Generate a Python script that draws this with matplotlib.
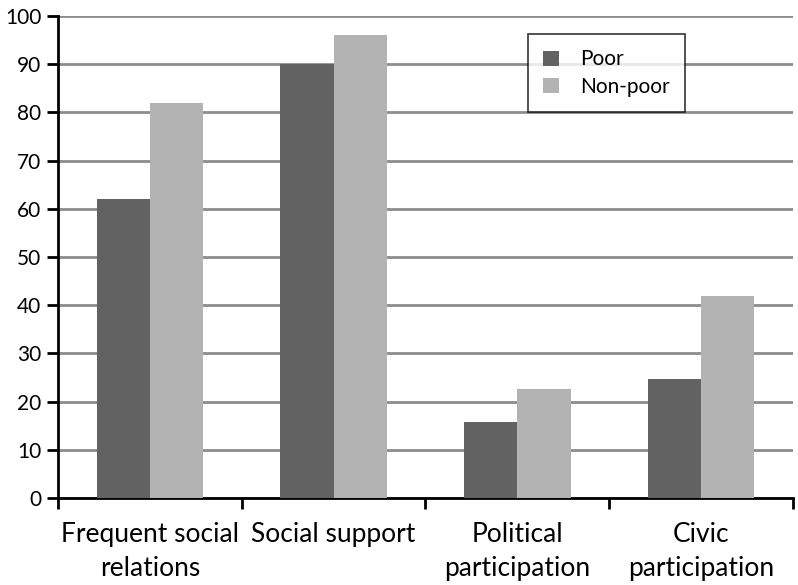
import matplotlib.pyplot as plt
import numpy as np

categories = ["Frequent social\nrelations", "Social support", "Political\nparticipation", "Civic\nparticipation"]
poor = [62, 90, 15.7, 24.6]
non_poor = [82, 96, 22.6, 42]

plt.rcParams['font.family'] = ['Lato', 'DejaVu Sans']

fig = plt.figure(figsize=(7.98, 5.85), dpi=100)
ax = fig.add_axes([0.0727, 0.1487, 0.9210, 0.8239])

x = np.arange(len(categories))
w = 0.29
ax.bar(x - w / 2, poor, w, color='#626262', label='Poor', zorder=3)
ax.bar(x + w / 2, non_poor, w, color='#b3b3b3', label='Non-poor', zorder=3)

ax.set_xlim(-0.5, len(categories) - 0.5)
ax.set_ylim(0, 100)
ax.set_yticks(range(0, 101, 10))
ax.yaxis.grid(True, color='#8c8c8c', linewidth=2, zorder=0)
ax.set_axisbelow(True)

# category ticks sit on the group boundaries
ax.set_xticks(np.arange(-0.5, len(categories), 1))
ax.set_xticklabels([])
ax.set_xticks(x, minor=True)
ax.set_xticklabels(categories, minor=True, fontsize=19, linespacing=1.45)
ax.tick_params(axis='x', which='minor', length=0, pad=17)
ax.tick_params(axis='x', which='major', length=8, width=2)
ax.tick_params(axis='y', length=8, width=2, labelsize=15, pad=4)

for s in ['top', 'right']:
    ax.spines[s].set_visible(False)
for s in ['left', 'bottom']:
    ax.spines[s].set_linewidth(2)

leg = ax.legend(loc='upper left', bbox_to_anchor=(0.639, 0.963), fontsize=15,
                frameon=True, fancybox=False, edgecolor='black',
                handlelength=0.75, handleheight=0.75, borderpad=0.75,
                labelspacing=0.35, handletextpad=1.0, borderaxespad=0)
leg.get_frame().set_linewidth(1.2)

fig.savefig('out.png', dpi=100)
